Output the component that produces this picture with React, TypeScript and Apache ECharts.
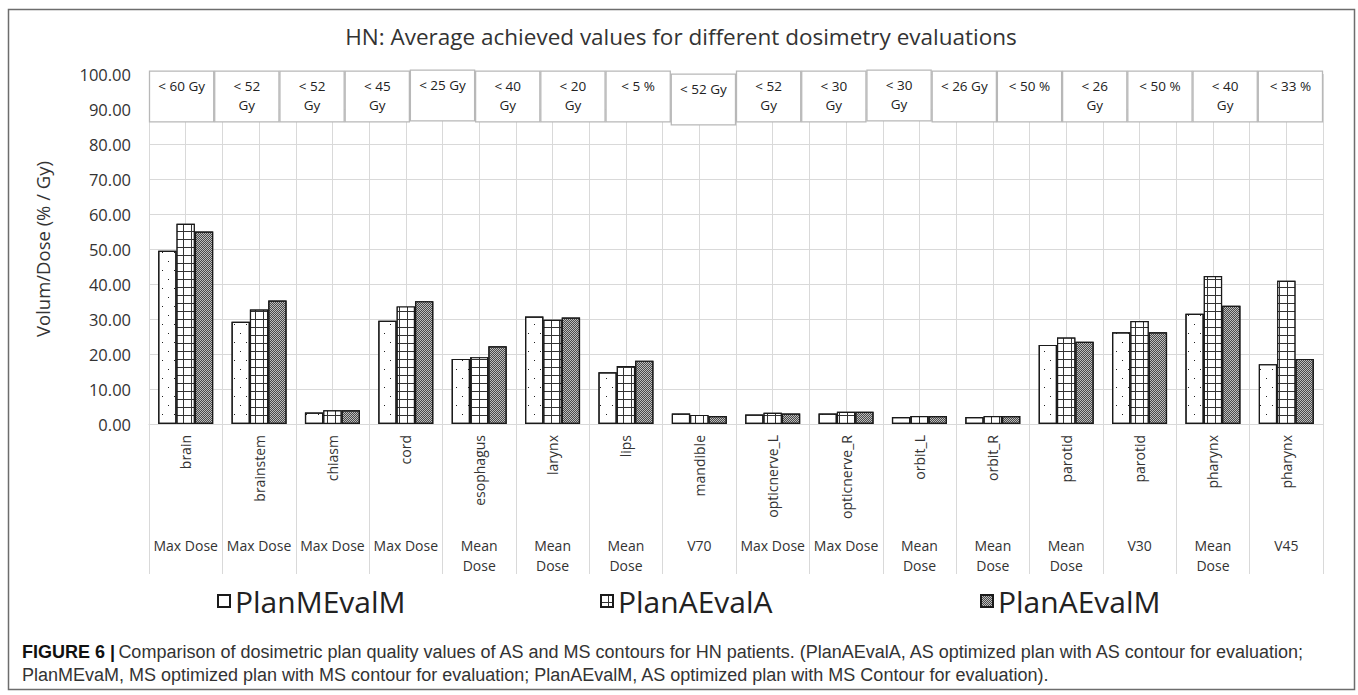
import React, { useEffect, useRef } from "react";
import * as echarts from "echarts";

const organs = ["brain", "brainstem", "chiasm", "cord", "esophagus", "larynx", "lips", "mandible", "opticnerve_L", "opticnerve_R", "orbit_L", "orbit_R", "parotid", "parotid", "pharynx", "pharynx"];
const metrics = ["Max Dose", "Max Dose", "Max Dose", "Max Dose", "Mean\nDose", "Mean\nDose", "Mean\nDose", "V70", "Max Dose", "Max Dose", "Mean\nDose", "Mean\nDose", "Mean\nDose", "V30", "Mean\nDose", "V45"];
const planMEvalM = [49.5, 29.2, 3.3, 29.5, 18.6, 30.7, 14.8, 3.0, 2.7, 3.0, 2.0, 2.0, 22.6, 26.2, 31.5, 17.1];
const planAEvalA = [57.2, 32.7, 3.9, 33.6, 19.1, 29.8, 16.6, 2.6, 3.2, 3.5, 2.3, 2.3, 24.7, 29.4, 42.3, 40.9];
const planAEvalM = [55.0, 35.3, 3.9, 35.1, 22.2, 30.4, 18.1, 2.3, 3.0, 3.5, 2.3, 2.3, 23.5, 26.2, 33.8, 18.6];
const constraintLabels = ["< 60 Gy", "< 52\nGy", "< 52\nGy", "< 45\nGy", "< 25 Gy", "< 40\nGy", "< 20\nGy", "< 5 %", "< 52 Gy", "< 52\nGy", "< 30\nGy", "< 30\nGy", "< 26 Gy", "< 50 %", "< 26\nGy", "< 50 %", "< 40\nGy", "< 33 %"];
const yTicks = { min: 0, max: 100, interval: 10 };
const seriesNames = ["PlanMEvalM", "PlanAEvalA", "PlanAEvalM"];

// layout (not data)
const boxShiftPx = [0, 0, 0, 0, -1, 0, 0, 0, 3, 0, 0, -1, 0, 0, 0, 0, 0, 0];
const BOX_TOP = 100.85;
const BOX_BOTTOM = 86.3;
const FONT = "'Open Sans', sans-serif";
const CAPTION_FONT = "'Liberation Sans', Arial, sans-serif";

const barFills = ["#ffffff", "#333333", "#bdbdbd"];
const decals = [
  { symbol: "rect", symbolSize: 1, color: "#222", dashArrayX: [[1, 11], [0, 6, 1, 5]], dashArrayY: [1, 8] },
  { symbol: "rect", symbolSize: 1, color: "#fff", dashArrayX: [7, 1], dashArrayY: [7, 1] },
  { symbol: "rect", symbolSize: 1, color: "#4a4a4a", dashArrayX: [[1, 1], [0, 1, 1, 0]], dashArrayY: [1, 0] },
];

export default function App() {
  const ref = useRef<HTMLDivElement>(null);
  useEffect(() => {
    const chart = echarts.init(ref.current as HTMLDivElement, null, { renderer: "svg" });
    const values = [planMEvalM, planAEvalA, planAEvalM];
    const barSeries = values.map((vals, k) => ({
      name: seriesNames[k],
      type: "bar",
      xAxisIndex: 0,
      yAxisIndex: 0,
      data: vals,
      barCategoryGap: "25%",
      barGap: "0%",
      itemStyle: { color: barFills[k], borderColor: "#1a1a1a", borderWidth: 1.2, decal: decals[k] },
      emphasis: { disabled: true },
    }));
    const legendLefts = [217, 600, 980];
    const option: any = {
      animation: false,
      backgroundColor: "#fff",
      grid: { left: 149, right: 35, top: 74, bottom: 271, containLabel: false },
      xAxis: [
        {
          type: "category",
          data: organs,
          position: "bottom",
          axisLine: { show: true, lineStyle: { color: "#d9d9d9", width: 1 } },
          axisTick: { show: true, interval: 0, length: 150, lineStyle: { color: "#d9d9d9", width: 1 } },
          axisLabel: { interval: 0, rotate: 90, margin: 11, fontSize: 14, fontFamily: FONT, color: "#333" },
          splitLine: { show: false },
        },
        {
          type: "value",
          min: 0,
          max: 32,
          interval: 1,
          position: "top",
          axisLine: { show: false },
          axisTick: { show: false },
          axisLabel: { show: false },
          splitLine: { show: true, lineStyle: { color: "#d9d9d9", width: 1 } },
        },
        {
          type: "category",
          data: metrics,
          position: "bottom",
          offset: 103,
          axisLine: { show: false },
          axisTick: { show: false },
          axisLabel: { interval: 0, margin: 8, fontSize: 14, lineHeight: 20, fontFamily: FONT, color: "#333" },
          splitLine: { show: false },
        },
        {
          type: "category",
          data: constraintLabels.map((_, i) => String(i)),
          position: "top",
          show: false,
        },
      ],
      yAxis: {
        type: "value",
        min: yTicks.min,
        max: yTicks.max,
        interval: yTicks.interval,
        axisLine: { show: false },
        axisTick: { show: false },
        axisLabel: { margin: 18, fontSize: 16.5, fontFamily: FONT, color: "#333", formatter: (v: number) => v.toFixed(2) },
        splitLine: { show: true, lineStyle: { color: "#d9d9d9", width: 1 } },
      },
      legend: seriesNames.map((n, i) => ({
        data: [n],
        left: legendLefts[i],
        top: 586,
        padding: 0,
        icon: "rect",
        itemWidth: 12,
        itemHeight: 12,
        selectedMode: false,
        textStyle: { fontSize: 30, fontFamily: FONT, color: "#222" },
      })),
      series: [
        ...barSeries,
        {
          type: "custom",
          xAxisIndex: 3,
          yAxisIndex: 0,
          silent: true,
          data: constraintLabels.map((_, i) => [i, BOX_TOP]),
          renderItem: (params: any, api: any) => {
            const i = params.dataIndex;
            const top = api.coord([i, BOX_TOP]);
            const bot = api.coord([i, BOX_BOTTOM]);
            const w = api.size([1, 0])[0];
            const sh = boxShiftPx[i];
            const y0 = top[1] + sh;
            const y1 = bot[1] + sh;
            return {
              type: "group",
              children: [
                {
                  type: "rect",
                  shape: { x: top[0] - w / 2 + 0.5, y: y0, width: w - 1, height: y1 - y0 },
                  style: { fill: "#fff", stroke: "#b8b8b8", lineWidth: 1.3 },
                },
                {
                  type: "text",
                  x: top[0],
                  y: y0 + 5,
                  style: {
                    text: constraintLabels[i],
                    align: "center",
                    verticalAlign: "top",
                    fontSize: 13.5,
                    fontFamily: FONT,
                    lineHeight: 19,
                    fill: "#222",
                  },
                },
              ],
            };
          },
        },
      ],
      graphic: [
        {
          type: "rect",
          silent: true,
          shape: { x: 8.5, y: 9.5, width: 1346, height: 680 },
          style: { fill: "none", stroke: "#6d6d6d", lineWidth: 1.5 },
        },
        {
          type: "text",
          x: 681,
          y: 36,
          style: {
            text: "HN: Average achieved values for different dosimetry evaluations",
            align: "center",
            verticalAlign: "middle",
            fontSize: 22.5,
            fontFamily: FONT,
            fill: "#333",
          },
        },
        {
          type: "text",
          x: 42,
          y: 249,
          rotation: Math.PI / 2,
          style: {
            text: "Volum/Dose (% / Gy)",
            align: "center",
            verticalAlign: "middle",
            fontSize: 18.5,
            fontFamily: FONT,
            fill: "#333",
          },
        },
        {
          type: "text",
          x: 22,
          y: 652,
          style: {
            text: "{b|FIGURE 6 |} {r|Comparison of dosimetric plan quality values of AS and MS contours for HN patients. (PlanAEvalA, AS optimized plan with AS contour for evaluation;}",
            verticalAlign: "middle",
            rich: {
              b: { fontSize: 18, fontWeight: "bold", fontFamily: CAPTION_FONT, fill: "#111", color: "#111" },
              r: { fontSize: 18, fontFamily: CAPTION_FONT, fill: "#333", color: "#333" },
            },
          },
        },
        {
          type: "text",
          x: 22,
          y: 675,
          style: {
            text: "PlanMEvaM, MS optimized plan with MS contour for evaluation; PlanAEvalM, AS optimized plan with MS Contour for evaluation).",
            verticalAlign: "middle",
            fontSize: 18,
            fontFamily: CAPTION_FONT,
            fill: "#333",
          },
        },
      ],
    };
    chart.setOption(option);
    return () => chart.dispose();
  }, []);
  return (
    <div
      ref={ref}
      style={{ position: "fixed", left: 0, top: 0, width: 1358, height: 695, background: "#fff" }}
    />
  );
}
